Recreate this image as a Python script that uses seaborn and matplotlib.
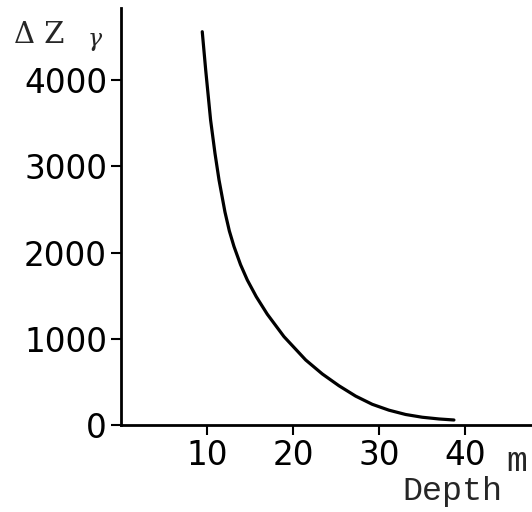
import matplotlib
matplotlib.use('Agg')
import matplotlib.pyplot as plt
import seaborn as sns

# Values
depth = [9.45, 9.85, 10.42, 10.93, 11.40, 12.09, 12.6, 13.14, 13.9, 14.69,
         15.73, 17.01, 18.95, 21.48, 23.41, 25.35, 27.29, 29.22, 31.16, 33.10,
         35.03, 36.98, 38.72]
delta_z = [4560, 4116, 3536, 3150, 2841, 2470, 2250, 2070, 1860, 1681,
           1488, 1285, 1025, 754, 592, 455, 335, 240, 172, 122,
           90, 70, 58]

x_ticks = [10, 20, 30, 40]
y_ticks = [0, 1000, 2000, 3000, 4000]

sns.set_style('ticks')
plt.rcParams['font.family'] = ['DejaVu Sans']

fig = plt.figure(figsize=(5.32, 5.12), dpi=100)
ax = fig.add_axes([121 / 532, 87 / 512, 411 / 532, 417 / 512])

sns.lineplot(x=depth, y=delta_z, color='black', linewidth=2.3, ax=ax)

ax.set_xlim(0, 47.8)
ax.set_ylim(0, 4835)
ax.set_xticks(x_ticks)
ax.set_yticks(y_ticks)
ax.tick_params(axis='both', labelsize=23.5, length=7, width=1.5, color='black',
               labelcolor='black', pad=3)
ax.set_xlabel('')
ax.set_ylabel('')
for side in ['left', 'bottom']:
    ax.spines[side].set_linewidth(2)
    ax.spines[side].set_color('black')
sns.despine(ax=ax)

# axis labels placed like the hand lettering
fig.text(517 / 532, 1 - 471 / 512, 'm', ha='center', va='baseline',
         family='Liberation Mono', size=25)
fig.text(452 / 532, 1 - 500 / 512, 'Depth', ha='center', va='baseline',
         family='Liberation Mono', size=24)
fig.text(14 / 532, 1 - 43 / 512, 'Δ Z', ha='left', va='baseline',
         family='DejaVu Serif', size=21)
fig.text(95 / 532, 1 - 46 / 512, 'γ', ha='center', va='baseline',
         family='DejaVu Serif', style='italic', size=17)

fig.savefig('out.png', dpi=100)
